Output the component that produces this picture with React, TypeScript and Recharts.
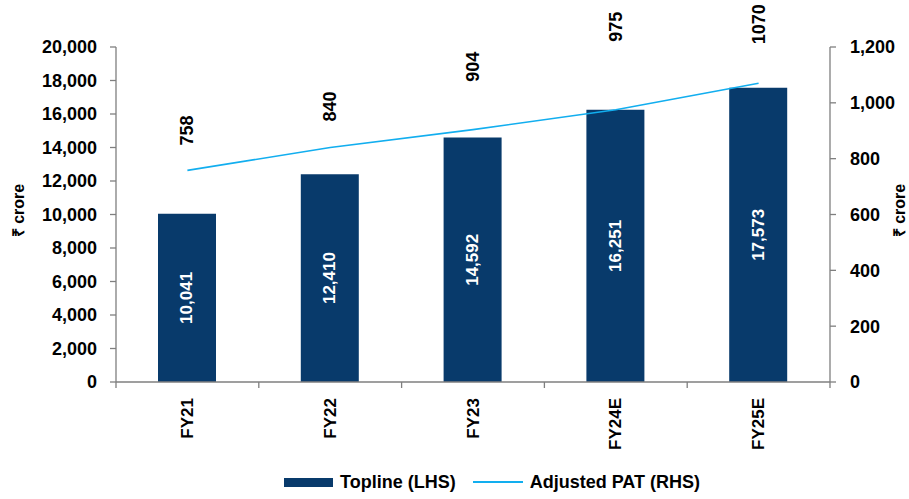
import { ComposedChart, Bar, Line, XAxis, YAxis, Legend, LabelList } from 'recharts'

const years = ['FY21', 'FY22', 'FY23', 'FY24E', 'FY25E']
const topline = [10041, 12410, 14592, 16251, 17573]
const adjustedPat = [758, 840, 904, 975, 1070]
const leftTicks = [0, 2000, 4000, 6000, 8000, 10000, 12000, 14000, 16000, 18000, 20000]
const rightTicks = [0, 200, 400, 600, 800, 1000, 1200]

const data = years.map((y, i) => ({ year: y, topline: topline[i], pat: adjustedPat[i] }))

const NAVY = '#083a6b'
const SKY = '#12aeef'
const AXIS = '#7f7f7f'
const FONT = '"Liberation Sans", Arial, sans-serif'
const BAND = (909 - 116 - 79) / years.length

const fmt = (v: number) => v.toLocaleString('en-US')

// label lift above each point, matching the hand-placed labels in the source
const patLift = [40, 41, 63, 83, 59]

const XTick = (props: any) => {
  const { x, y, payload, index } = props
  return (
    <g>
      <line x1={x - BAND / 2} x2={x - BAND / 2} y1={y} y2={y + 6} stroke={AXIS} strokeWidth={1.3} />
      {index === years.length - 1 && (
        <line x1={x + BAND / 2} x2={x + BAND / 2} y1={y} y2={y + 6} stroke={AXIS} strokeWidth={1.3} />
      )}
      <text
        x={x}
        y={y + 16}
        transform={`rotate(-90 ${x} ${y + 16})`}
        textAnchor="end"
        dominantBaseline="central"
        fontSize={17}
        fontWeight={700}
        fontFamily={FONT}
        fill="#000"
      >
        {payload.value}
      </text>
    </g>
  )
}

const BarValue = (props: any) => {
  const { x, y, width, height, value } = props
  const cx = x + width / 2
  const cy = y + height / 2
  return (
    <text
      x={cx}
      y={cy}
      transform={`rotate(-90 ${cx} ${cy})`}
      textAnchor="middle"
      dominantBaseline="central"
      fontSize={17}
      fontWeight={700}
      fontFamily={FONT}
      fill="#fff"
    >
      {fmt(value)}
    </text>
  )
}

const PatValue = (props: any) => {
  const { x, y, value, index } = props
  const cy = y - patLift[index]
  return (
    <text
      x={x}
      y={cy}
      transform={`rotate(-90 ${x} ${cy})`}
      textAnchor="middle"
      dominantBaseline="central"
      fontSize={18}
      fontWeight={700}
      fontFamily={FONT}
      fill="#000"
    >
      {value}
    </text>
  )
}

const AxisTitle = (side: 'left' | 'right') => (props: any) => {
  const vb = props.viewBox
  const x = side === 'left' ? vb.x + 18 : vb.x + vb.width - 10
  const y = vb.y + vb.height / 2 - 4
  return (
    <text
      x={x}
      y={y}
      transform={`rotate(-90 ${x} ${y})`}
      textAnchor="middle"
      dominantBaseline="central"
      fontSize={16}
      fontWeight={700}
      fontFamily={FONT}
      fill="#000"
    >
      ₹ crore
    </text>
  )
}

const LegendBox = () => (
  <div
    style={{
      height: 34,
      display: 'flex',
      alignItems: 'center',
      paddingLeft: 284,
      fontFamily: FONT,
      fontSize: 18,
      fontWeight: 700,
      color: '#000',
    }}
  >
    <span style={{ width: 49, height: 9, background: NAVY, display: 'inline-block' }} />
    <span style={{ marginLeft: 7 }}>Topline (LHS)</span>
    <span style={{ width: 50, height: 1.5, background: SKY, display: 'inline-block', marginLeft: 17 }} />
    <span style={{ marginLeft: 7 }}>Adjusted PAT (RHS)</span>
  </div>
)

export default function App() {
  const tickStyle = { fontSize: 18, fontWeight: 700, fontFamily: FONT, fill: '#000' }
  return (
    <div style={{ position: 'absolute', left: 0, top: 0, background: '#fff' }}>
      <ComposedChart width={909} height={499} data={data} margin={{ top: 47, right: 0, bottom: 0, left: 0 }}>
        <XAxis
          dataKey="year"
          height={83}
          interval={0}
          tick={<XTick />}
          tickLine={false}
          tickSize={0}
          tickMargin={0}
          axisLine={{ stroke: AXIS, strokeWidth: 1.3 }}
        />
        <YAxis
          yAxisId="left"
          width={116}
          domain={[0, 20000]}
          ticks={leftTicks}
          interval={0}
          tickFormatter={fmt}
          tick={tickStyle}
          tickSize={6}
          tickMargin={13}
          tickLine={{ stroke: AXIS, strokeWidth: 1.3 }}
          axisLine={{ stroke: AXIS, strokeWidth: 1.3 }}
          label={{ content: AxisTitle('left') }}
        />
        <YAxis
          yAxisId="right"
          orientation="right"
          width={79}
          domain={[0, 1200]}
          ticks={rightTicks}
          interval={0}
          tickFormatter={fmt}
          tick={{ ...tickStyle, textAnchor: 'start' }}
          tickSize={6}
          tickMargin={14}
          tickLine={{ stroke: AXIS, strokeWidth: 1.3 }}
          axisLine={{ stroke: AXIS, strokeWidth: 1.3 }}
          label={{ content: AxisTitle('right') }}
        />
        <Legend verticalAlign="bottom" content={<LegendBox />} />
        <Bar yAxisId="left" dataKey="topline" name="Topline (LHS)" fill={NAVY} barSize={58} isAnimationActive={false}>
          <LabelList dataKey="topline" content={<BarValue />} />
        </Bar>
        <Line
          yAxisId="right"
          dataKey="pat"
          name="Adjusted PAT (RHS)"
          type="linear"
          stroke={SKY}
          strokeWidth={1.6}
          dot={false}
          isAnimationActive={false}
        >
          <LabelList dataKey="pat" content={<PatValue />} />
        </Line>
      </ComposedChart>
    </div>
  )
}
